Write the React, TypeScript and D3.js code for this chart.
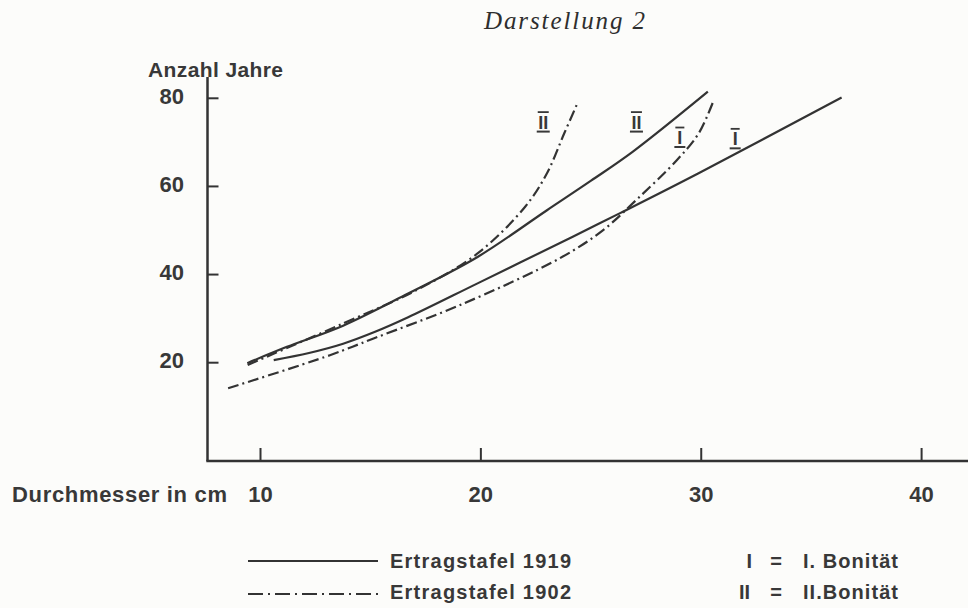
import React from "react";
import * as d3 from "d3";

// ---- data (Durchmesser in cm, Anzahl Jahre) ----
const ertrag1919_II: [number, number][] = [
  [9.4, 19.9], [11.2, 23.6], [13.75, 28.4], [16.7, 35.7], [19.85, 44.0],
  [23.0, 54.6], [25.0, 61.3], [26.9, 67.9], [30.3, 81.5],
];
const ertrag1919_I: [number, number][] = [
  [10.6, 20.6], [12.2, 22.2], [13.75, 24.3], [15.2, 27.0], [16.7, 30.3],
  [19.85, 38.0], [24.17, 48.6], [26.34, 54.0], [29.88, 63.0], [36.37, 80.2],
];
const ertrag1902_II: [number, number][] = [
  [9.42, 19.5], [13.75, 28.9], [17.09, 36.5], [19.85, 44.8], [22.01, 55.4],
  [23.0, 63.0], [23.78, 72.0], [24.41, 79.2],
];
const ertrag1902_I: [number, number][] = [
  [8.53, 14.2], [13.15, 21.7], [15.13, 25.5], [19.06, 33.1], [23.58, 43.7],
  [25.55, 50.1], [27.13, 57.3], [28.9, 66.0], [29.88, 72.0], [30.57, 79.6],
];

const xTicks = [10, 20, 30, 40];
const yTicks = [20, 40, 60, 80];

const curveLabels = [
  { text: "II", x: 22.83, y: 74.6 },
  { text: "II", x: 27.06, y: 74.6 },
  { text: "I", x: 29.03, y: 71.1 },
  { text: "I", x: 31.54, y: 70.8 },
];

const legendSeries = ["Ertragstafel 1919", "Ertragstafel 1902"];
const legendSymbols = ["I", "II"];
const legendMeanings = ["I. Bonität", "II.Bonität"];

const title = "Darstellung 2";
const yTitle = "Anzahl Jahre";
const xTitle = "Durchmesser in cm";

const INK = "#333333";
const TEXT = "#383838";
const SANS = "'Liberation Sans', Arial, sans-serif";

export default function App() {
  const W = 968, H = 608;
  const x = d3.scaleLinear().domain([10, 40]).range([260.5, 921.6]);
  const y = d3.scaleLinear().domain([20, 80]).range([362.7, 98.3]);

  const axisLeft = 207.5;
  const axisBottom = 461;
  const axisTop = 77;

  const line = d3
    .line<[number, number]>()
    .x((d) => x(d[0]))
    .y((d) => y(d[1]))
    .curve(d3.curveCatmullRom.alpha(0.5));

  const dashDot = "11,4,2,4";

  const series = [
    { data: ertrag1919_II, dash: undefined },
    { data: ertrag1919_I, dash: undefined },
    { data: ertrag1902_II, dash: dashDot },
    { data: ertrag1902_I, dash: dashDot },
  ];

  return (
    <svg
      width={W}
      height={H}
      style={{ position: "absolute", left: 0, top: 0 }}
      xmlns="http://www.w3.org/2000/svg"
    >
      <rect x={0} y={0} width={W} height={H} fill="#fcfcfa" />

      {/* title */}
      <text
        x={484}
        y={29}
        fontFamily="'Liberation Serif', 'DejaVu Serif', serif"
        fontStyle="italic"
        fontSize={25}
        fill="#2e2e2e"
        textLength={161}
        lengthAdjust="spacing"
      >
        {title}
      </text>

      {/* y title */}
      <text
        x={148}
        y={77}
        fontFamily={SANS}
        fontWeight="bold"
        fontSize={21}
        fill={TEXT}
        textLength={135}
        lengthAdjust="spacing"
      >
        {yTitle}
      </text>

      {/* axes */}
      <line x1={axisLeft} y1={axisTop} x2={axisLeft} y2={axisBottom} stroke={INK} strokeWidth={2.5} />
      <line x1={axisLeft - 1.2} y1={axisBottom} x2={W} y2={axisBottom} stroke={INK} strokeWidth={2.5} />

      {yTicks.map((t) => (
        <g key={"yt" + t}>
          <line x1={axisLeft} x2={axisLeft + 11} y1={y(t)} y2={y(t)} stroke={INK} strokeWidth={2} />
          <text
            x={184}
            y={y(t) + 5.5}
            textAnchor="end"
            fontFamily={SANS}
            fontWeight="bold"
            fontSize={22}
            fill={TEXT}
          >
            {t}
          </text>
        </g>
      ))}

      {xTicks.map((t) => (
        <g key={"xt" + t}>
          <line x1={x(t)} x2={x(t)} y1={axisBottom} y2={axisBottom - 13} stroke={INK} strokeWidth={2} />
          <text
            x={x(t)}
            y={502}
            textAnchor="middle"
            fontFamily={SANS}
            fontWeight="bold"
            fontSize={22}
            fill={TEXT}
          >
            {t}
          </text>
        </g>
      ))}

      <text
        x={12}
        y={502}
        fontFamily={SANS}
        fontWeight="bold"
        fontSize={22}
        fill={TEXT}
        textLength={215}
        lengthAdjust="spacing"
      >
        {xTitle}
      </text>

      {/* curves */}
      {series.map((s, i) => (
        <path
          key={"s" + i}
          d={line(s.data) || ""}
          fill="none"
          stroke={INK}
          strokeWidth={2.2}
          strokeDasharray={s.dash}
          strokeLinecap="butt"
        />
      ))}

      {/* curve labels (roman numerals with bars) */}
      {curveLabels.map((l, i) => {
        const cx = x(l.x);
        const cy = y(l.y);
        const w = l.text === "II" ? 11 : 9;
        return (
          <g key={"cl" + i}>
            <text
              x={cx}
              y={cy + 6.5}
              textAnchor="middle"
              fontFamily={SANS}
              fontWeight="bold"
              fontSize={18}
              fill={TEXT}
            >
              {l.text}
            </text>
            <line x1={cx - w / 2} x2={cx + w / 2} y1={cy - 10} y2={cy - 10} stroke={TEXT} strokeWidth={1.8} />
            <line x1={cx - w / 2 - 1} x2={cx + w / 2 + 1} y1={cy + 9.5} y2={cy + 9.5} stroke={TEXT} strokeWidth={2} />
          </g>
        );
      })}

      {/* legend */}
      {legendSeries.map((name, i) => {
        const ly = i === 0 ? 561 : 594;
        const ty = i === 0 ? 568 : 599;
        return (
          <g key={"lg" + i}>
            <line
              x1={248}
              x2={378}
              y1={ly}
              y2={ly}
              stroke={INK}
              strokeWidth={2}
              strokeDasharray={i === 0 ? undefined : "15,5,2,5"}
            />
            <text
              x={390}
              y={ty}
              fontFamily={SANS}
              fontWeight="bold"
              fontSize={20}
              fill={TEXT}
              textLength={181}
              lengthAdjust="spacing"
            >
              {name}
            </text>
            <text
              x={i === 0 ? 752 : 750}
              y={ty}
              textAnchor="end"
              fontFamily={SANS}
              fontWeight="bold"
              fontSize={20}
              fill={TEXT}
            >
              {legendSymbols[i]}
            </text>
            <text
              x={776}
              y={ty}
              textAnchor="middle"
              fontFamily={SANS}
              fontWeight="bold"
              fontSize={20}
              fill={TEXT}
            >
              =
            </text>
            <text
              x={803}
              y={ty}
              fontFamily={SANS}
              fontWeight="bold"
              fontSize={20}
              fill={TEXT}
              textLength={95}
              lengthAdjust="spacing"
            >
              {legendMeanings[i]}
            </text>
          </g>
        );
      })}
    </svg>
  );
}
